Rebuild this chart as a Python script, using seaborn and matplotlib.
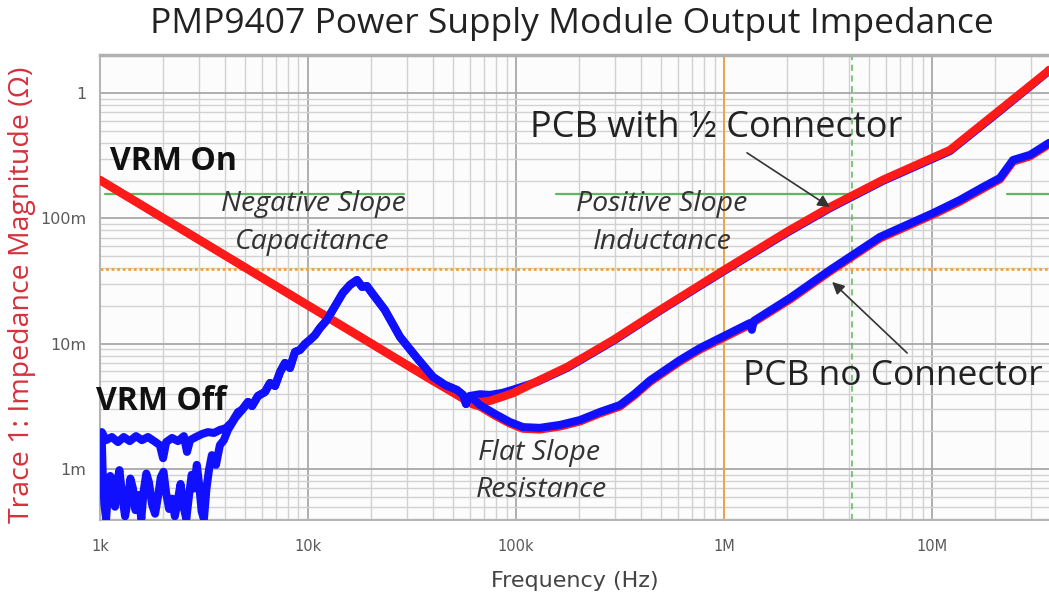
import matplotlib
matplotlib.use("Agg")
import matplotlib.pyplot as plt
import pandas as pd
import seaborn as sns
from matplotlib.ticker import FixedLocator, LogLocator, NullFormatter

# ---------------------------------------------------------------
# Measured impedance traces (frequency in Hz, |Z| in ohms)
# ---------------------------------------------------------------
k = 1e3
M = 1e6
m = 1e-3

# VRM on, PCB with 1/2 connector (red)
on_conn_freq = [1*k, 2*k, 5*k, 10*k, 20*k, 30*k, 40*k, 50*k, 56*k, 62*k, 67*k, 75*k, 85*k,
                97*k, 130*k, 176*k, 293*k, 500*k, 1*M, 2*M, 3.23*M, 5.81*M, 12.2*M,
                21.2*M, 35.7*M, 36.5*M]
on_conn_z = [202*m, 101*m, 40.4*m, 20.2*m, 10.1*m, 6.73*m, 5.05*m, 4.10*m, 3.75*m, 3.52*m,
             3.42*m, 3.50*m, 3.75*m, 4.04*m, 5.13*m, 6.52*m, 10.7*m, 18.9*m, 38.7*m, 78*m,
             123*m, 203*m, 351*m, 733*m, 1.47, 1.53]

# VRM on, PCB without connector (red)
on_noconn_freq = [1*k, 2*k, 5*k, 10*k, 20*k, 30*k, 40*k, 50*k, 56*k, 62*k, 67*k, 79*k, 93.5*k,
                  108*k, 130*k, 163*k, 203*k, 253*k, 316*k, 373*k, 441*k, 614*k, 767*k,
                  1.33*M, 2.08*M, 3.23*M, 5.62*M, 10.1*M, 13.6*M, 17.6*M, 21.2*M, 24.5*M,
                  29.6*M, 36.5*M]
on_noconn_z = [202*m, 101*m, 40.4*m, 20.2*m, 10.1*m, 6.73*m, 5.05*m, 4.05*m, 3.62*m, 3.28*m,
               3.16*m, 2.68*m, 2.31*m, 2.10*m, 2.07*m, 2.19*m, 2.40*m, 2.78*m, 3.16*m,
               3.90*m, 4.97*m, 7.22*m, 9.00*m, 14.2*m, 22.6*m, 37.7*m, 69.3*m, 107*m,
               136*m, 173*m, 205*m, 284*m, 313*m, 390*m]

# VRM off: shared resonance region (blue)
off_rise_freq = [4.81*k, 5.15*k, 5.38*k, 5.75*k, 6.21*k, 6.57*k, 6.94*k, 7.34*k, 7.75*k,
                 8.19*k, 8.66*k, 9.15*k, 9.67*k, 10.2*k, 10.8*k, 11.4*k, 12.3*k, 13.5*k,
                 14.7*k, 15.9*k, 17.2*k, 18.2*k, 19.2*k, 20.3*k, 23.4*k, 27.7*k, 33.4*k,
                 39.9*k, 45.6*k, 52.0*k, 55.6*k, 57.5*k, 60.1*k]
off_rise_z = [2.96*m, 3.43*m, 3.18*m, 3.83*m, 4.12*m, 4.86*m, 4.60*m, 5.94*m, 7.02*m,
              6.40*m, 8.59*m, 8.91*m, 9.95*m, 10.7*m, 11.7*m, 13.3*m, 15.4*m, 20.0*m,
              25.4*m, 29.4*m, 32.2*m, 28.4*m, 28.8*m, 25.4*m, 18.6*m, 11.3*m, 7.69*m,
              5.42*m, 4.68*m, 4.27*m, 3.90*m, 3.30*m, 3.83*m]

# VRM off, PCB with 1/2 connector (blue): low-frequency floor, then high-frequency branch
off_conn_low_freq = [1.02*k, 1.07*k, 1.14*k, 1.22*k, 1.30*k, 1.39*k, 1.49*k, 1.59*k, 1.70*k,
                     1.82*k, 1.94*k, 2.01*k, 2.08*k, 2.22*k, 2.37*k, 2.53*k, 2.62*k, 2.71*k,
                     2.89*k, 3.09*k, 3.30*k, 3.53*k, 3.77*k, 4.03*k, 4.31*k, 4.61*k]
off_conn_low_z = [1.97*m, 1.70*m, 1.80*m, 1.64*m, 1.80*m, 1.67*m, 1.83*m, 1.70*m, 1.80*m,
                  1.67*m, 1.55*m, 1.22*m, 1.64*m, 1.77*m, 1.67*m, 1.83*m, 1.37*m, 1.70*m,
                  1.80*m, 1.90*m, 1.97*m, 1.94*m, 2.05*m, 2.12*m, 2.37*m, 2.85*m]
off_conn_high_freq = [67.1*k, 75*k, 86*k, 97*k, 126*k, 176*k, 293*k, 500*k, 1*M, 2*M,
                      3.23*M, 5.81*M, 12.2*M, 21.2*M, 36.5*M]
off_conn_high_z = [3.95*m, 3.90*m, 4.05*m, 4.30*m, 4.95*m, 6.40*m, 10.5*m, 18.6*m, 38.0*m,
                   76.5*m, 120.5*m, 199*m, 344*m, 718*m, 1.50]

# VRM off, PCB without connector (blue): noisy floor, then high-frequency branch
off_noconn_low_freq = [1.02*k, 1.03*k, 1.05*k, 1.07*k, 1.09*k, 1.12*k, 1.15*k, 1.18*k, 1.21*k,
                       1.24*k, 1.28*k, 1.32*k, 1.36*k, 1.40*k, 1.44*k, 1.48*k, 1.53*k, 1.58*k,
                       1.62*k, 1.67*k, 1.72*k, 1.78*k, 1.84*k, 1.90*k, 1.96*k, 2.02*k, 2.08*k,
                       2.15*k, 2.22*k, 2.29*k, 2.36*k, 2.44*k, 2.52*k, 2.60*k, 2.68*k, 2.76*k,
                       2.84*k, 2.92*k, 3.00*k, 3.08*k, 3.16*k, 3.25*k, 3.34*k, 3.45*k, 3.61*k,
                       3.77*k, 3.94*k, 4.12*k, 4.46*k]
off_noconn_low_z = [1.70*m, 0.95*m, 0.52*m, 0.40*m, 0.62*m, 0.88*m, 0.74*m, 0.50*m, 0.80*m,
                    0.98*m, 0.60*m, 0.42*m, 0.56*m, 0.84*m, 0.70*m, 0.47*m, 0.62*m, 0.40*m,
                    0.66*m, 0.92*m, 0.78*m, 0.52*m, 0.44*m, 0.60*m, 0.86*m, 0.95*m, 0.64*m,
                    0.48*m, 0.58*m, 0.42*m, 0.55*m, 0.76*m, 0.50*m, 0.40*m, 0.62*m, 0.90*m,
                    0.70*m, 1.08*m, 0.74*m, 0.46*m, 0.40*m, 0.70*m, 0.98*m, 1.29*m, 1.08*m,
                    1.55*m, 1.70*m, 2.05*m, 2.55*m]
off_noconn_high_freq = [67.1*k, 79.3*k, 93.5*k, 108*k, 130*k, 163*k, 203*k, 253*k, 316*k,
                        373*k, 441*k, 614*k, 767*k, 1.33*M, 1.36*M, 1.39*M, 2.08*M, 3.23*M,
                        5.62*M, 10.1*M, 13.6*M, 17.6*M, 21.2*M, 24.5*M, 29.6*M, 36.5*M]
off_noconn_high_z = [3.24*m, 2.75*m, 2.37*m, 2.16*m, 2.13*m, 2.25*m, 2.46*m, 2.85*m, 3.24*m,
                     4.00*m, 5.10*m, 7.41*m, 9.24*m, 14.6*m, 12.9*m, 15.2*m, 23.2*m, 38.7*m,
                     71.1*m, 110*m, 140*m, 178*m, 210*m, 292*m, 321*m, 400*m]

# Cursor / reference markers
marker_freq_1 = 1*M
marker_freq_2 = 4.12*M
marker_level = 39.6*m
band_level = 157*m
band_spans = [(1.06*k, 29*k), (156*k, 4.3*M), (22.9*M, 40*M)]

x_ticks = [1*k, 10*k, 100*k, 1*M, 10*M]
x_tick_labels = ["1k", "10k", "100k", "1M", "10M"]
y_ticks = [1*m, 10*m, 100*m, 1.0]
y_tick_labels = ["1m", "10m", "100m", "1"]

RED = "#ff1a1a"
BLUE = "#1010ff"

# ---------------------------------------------------------------
sns.set_style("white")
plt.rcParams["font.family"] = ["Open Sans", "DejaVu Sans"]

fig = plt.figure(figsize=(10.49, 6.03), dpi=100)
ax = fig.add_axes([100/1049, 1 - 520/603, 949/1049, 465/603])
ax.set_facecolor("#fcfcfc")

ax.set_xscale("log")
ax.set_yscale("log")


def trace(freq, z, color, lw, zorder):
    df = pd.DataFrame({"freq": freq, "z": z})
    sns.lineplot(data=df, x="freq", y="z", ax=ax, color=color, lw=lw,
                 estimator=None, sort=False, zorder=zorder,
                 solid_capstyle="round", solid_joinstyle="round")


trace(off_conn_low_freq + off_rise_freq + off_conn_high_freq,
      off_conn_low_z + off_rise_z + off_conn_high_z, BLUE, 5.8, 3)
trace(on_conn_freq, on_conn_z, RED, 6.0, 4)
trace(on_noconn_freq, on_noconn_z, RED, 6.0, 5)
trace(off_noconn_low_freq + off_rise_freq + off_noconn_high_freq,
      off_noconn_low_z + off_rise_z + off_noconn_high_z, BLUE, 5.8, 6)

# reference markers
ax.axvline(marker_freq_1, color="#f4a145", lw=1.3, zorder=2)
ax.axvline(marker_freq_2, color="#5cb85c", lw=1.1, ls=(0, (4, 3)), zorder=2)
ax.axhline(marker_level, color="#f4a040", lw=2.0, ls=(0, (1, 1)), zorder=2)
for lo, hi in band_spans:
    ax.plot([lo, hi], [band_level, band_level], color="#5db95d", lw=1.6, zorder=2)

ax.set_xlim(1*k, 36.5*M)
ax.set_ylim(0.392*m, 2.01)

ax.xaxis.set_major_locator(FixedLocator(x_ticks))
ax.set_xticklabels(x_tick_labels)
ax.yaxis.set_major_locator(FixedLocator(y_ticks))
ax.set_yticklabels(y_tick_labels)
ax.xaxis.set_minor_locator(LogLocator(base=10, subs=range(2, 10), numticks=20))
ax.yaxis.set_minor_locator(LogLocator(base=10, subs=range(2, 10), numticks=20))
ax.xaxis.set_minor_formatter(NullFormatter())
ax.yaxis.set_minor_formatter(NullFormatter())
ax.tick_params(which="both", length=0)
ax.tick_params(axis="x", pad=14, labelsize=10.5, labelcolor="#5a5a5a")
ax.tick_params(axis="y", pad=10, labelsize=11.5, labelcolor="#5a5a5a")
for lab in ax.get_xticklabels() + ax.get_yticklabels():
    lab.set_family(["Liberation Sans Narrow", "DejaVu Sans"])

ax.grid(which="major", color="#a8a8a8", lw=1.3)
ax.grid(which="minor", color="#d2d2d2", lw=1.0)
ax.set_axisbelow(True)

for side in ("left", "bottom"):
    ax.spines[side].set_color("#b5b5b5")
    ax.spines[side].set_linewidth(1.5)
ax.spines["top"].set_color("#b0b0b0")
ax.spines["top"].set_linewidth(2.5)
ax.spines["right"].set_visible(False)

ax.set_xlabel("Frequency (Hz)", fontsize=16, color="#444444",
              family=["Liberation Sans Narrow", "DejaVu Sans"], labelpad=12)
ax.set_ylabel("Trace 1: Impedance Magnitude (\u03a9)", fontsize=20.5, color="#d7303c")
ax.yaxis.set_label_coords(-0.067, 0.484)
fig.text(0.545, 1 - 24/603, "PMP9407 Power Supply Module Output Impedance", fontsize=25.5,
         color="#222222", ha="center", va="center")

# annotations
ax.text(1.12*k, 0.282, "VRM On", fontsize=23, fontweight="bold", color="#111111",
        ha="left", va="center", zorder=8)
ax.text(0.956*k, 3.45*m, "VRM Off", fontsize=23, fontweight="bold", color="#111111",
        ha="left", va="center", zorder=8, clip_on=False)
ital = dict(fontsize=20.5, style="italic", color="#333333", ha="center", va="center", zorder=8)
ax.text(10.6*k, 130*m, "Negative Slope", **ital)
ax.text(10.5*k, 64.8*m, "Capacitance", **ital)
ax.text(504*k, 130*m, "Positive Slope", **ital)
ax.text(504*k, 64.8*m, "Inductance", **ital)
ax.text(129*k, 1.34*m, "Flat Slope", **ital)
ax.text(133*k, 0.68*m, "Resistance", **ital)
ax.text(915*k, 0.526, "PCB with \u00bd Connector", fontsize=26, color="#222222",
        ha="center", va="center", zorder=8)
ax.text(6.49*M, 5.52*m, "PCB no Connector", fontsize=25.5, color="#222222",
        ha="center", va="center", zorder=8)

arrow = dict(arrowstyle="-|>", color="#333333", lw=1.2, mutation_scale=18,
             shrinkA=0, shrinkB=0)
ax.annotate("", xy=(3.23*M, 123*m), xytext=(1.29*M, 333*m), arrowprops=arrow, zorder=9)
ax.annotate("", xy=(3.31*M, 31.1*m), xytext=(7.59*M, 8.43*m), arrowprops=arrow, zorder=9)

fig.savefig("out.png", dpi=100)
